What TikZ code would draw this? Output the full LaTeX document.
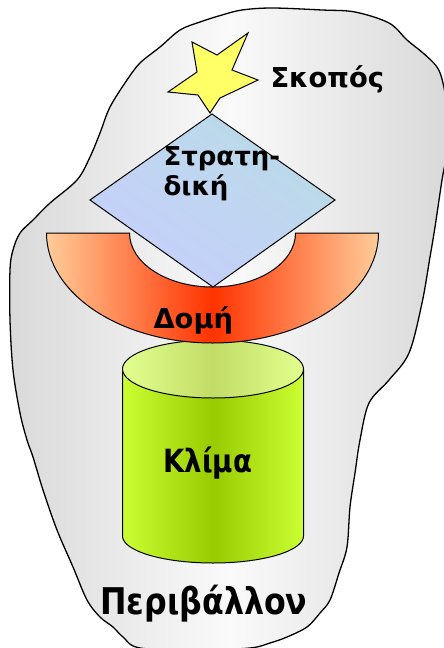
\documentclass[tikz,border=0pt]{standalone}
\usepackage{fontspec}
\setmainfont{DejaVu Sans}
\newfontfamily\narrowsans{DejaVu Sans}[FakeStretch=0.86]
\usetikzlibrary{positioning,shadings}
\definecolor{envgray}{HTML}{D9D9D9}
\definecolor{envwhite}{HTML}{FAFAFA}
\definecolor{stargold}{HTML}{FFFF66}
\definecolor{stratcyan}{HTML}{B8DEE4}
\definecolor{stratlav}{HTML}{C8CCFF}
\definecolor{stratmid}{HTML}{C0D5F2}
\definecolor{structpeach}{HTML}{FFCC99}
\definecolor{structred}{HTML}{FF3300}
\definecolor{climlime}{HTML}{CCFF33}
\definecolor{climgreen}{HTML}{99CC00}
\definecolor{climpale}{HTML}{E2FF8E}
\definecolor{climolive}{HTML}{C2DC66}
\begin{document}
\begin{tikzpicture}[x=1pt,y=1pt,line width=1pt,
  lbl/.style={inner sep=0pt,anchor=base west}]
  \useasboundingbox (0,0) rectangle (444,-648);
  % environment blob
  \draw[line width=1.3pt,left color=envgray,right color=envgray,middle color=envwhite]
    plot[smooth cycle,tension=0.55] coordinates {(222,-15) (242,-10) (272,-8) (322,-10) (355,-12)
      (389,-23) (407,-40) (423,-53) (437,-67) (443,-83) (447,-110) (447,-150) (442,-180)
      (435,-227) (430,-257) (422,-303) (409,-353) (389,-380) (369,-403) (360,-440) (355,-473)
      (350,-507) (347,-547) (339,-573) (330,-600) (320,-613) (307,-627) (287,-637) (270,-643)
      (250,-648) (200,-650) (140,-648) (123,-637) (113,-627) (100,-617) (87,-600) (73,-567)
      (57,-530) (43,-490) (33,-457) (27,-440) (20,-413) (13,-370) (10,-320) (10,-270) (13,-250)
      (20,-233) (33,-220) (50,-203) (77,-180) (90,-157) (100,-133) (110,-107) (127,-80)
      (140,-63) (160,-47) (180,-30) (200,-22)};
  % climate cylinder
  \draw[left color=climlime,right color=climlime,middle color=climgreen]
    (122.5,-369) -- (122.5,-536) arc[start angle=180,end angle=360,x radius=90.5,y radius=27]
    -- (303.5,-369) -- cycle;
  \draw[left color=climpale,right color=climpale,middle color=climolive]
    (213,-369) ellipse[x radius=90.5,y radius=29];
  % structure arc
  \draw[left color=structpeach,right color=structpeach,middle color=structred]
    (46.5,-233) -- (129.5,-233) arc[start angle=180,end angle=360,x radius=83,y radius=54]
    -- (378.5,-233) arc[start angle=0,end angle=-180,x radius=166,y radius=110] -- cycle;
  % strategy diamond
  \draw[upper right=stratcyan,lower left=stratlav,upper left=stratmid,lower right=stratmid]
    (212,-114) -- (335,-200) -- (213,-287) -- (90,-200) -- cycle;
  % goal star
  \draw[fill=stargold] (192,-42) -- (217,-55) -- (248,-33) -- (232,-70) -- (258,-80)
    -- (220,-98) -- (210,-113) -- (198,-95) -- (168,-92) -- (197,-72) -- cycle;
  \node[lbl,font=\bfseries\fontsize{27.4}{30}\selectfont] (goal) at (270,-87) {Σκοπός};
  \node[lbl,font=\bfseries\fontsize{26}{30}\selectfont,align=left] (strat) at (163,-195)
    {Στρατη-\\δική};
  \node[lbl,font=\bfseries\fontsize{27.4}{30}\selectfont] (struct) at (153,-328) {Δομή};
  \node[lbl,font=\narrowsans\bfseries\fontsize{32}{34}\selectfont] (climate) at (163,-472) {Κλίμα};
  \node[lbl,font=\narrowsans\bfseries\fontsize{36.8}{40}\selectfont] (env) at (100,-614) {Περιβάλλον};
\end{tikzpicture}
\end{document}
